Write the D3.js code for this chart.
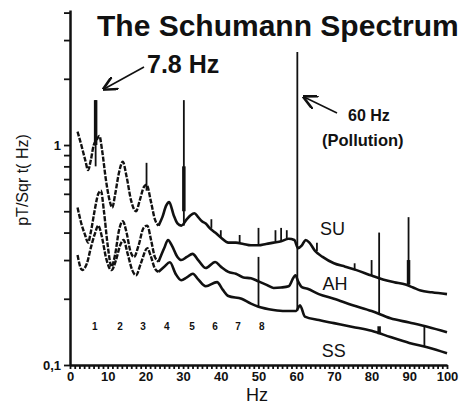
<!DOCTYPE html>
<html>
<head>
<meta charset="utf-8">
<script src="https://cdn.jsdelivr.net/npm/d3@7"></script>
<style>
  body { margin: 0; background: #fff; }
  text { font-family: "Liberation Sans", Arial, sans-serif; fill: #111; }
</style>
</head>
<body>
<script>
// spectrum curves, [Hz, pT/sqrt(Hz)]
var su = [[2,1.15],[3,1.0],[4,0.86],[4.8,0.77],[5.5,0.85],[6.3,1.0],[7,1.05],[7.8,1.1],[8.5,0.95],[9.5,0.7],[10.5,0.56],[11.2,0.52],[12,0.6],[13,0.75],[14,0.84],[15,0.72],[16.2,0.56],[17.5,0.5],[18.5,0.56],[19.5,0.64],[20.3,0.66],[21.5,0.55],[22.5,0.46],[23.5,0.43],[24.5,0.47],[25.5,0.53],[26.3,0.55],[27.5,0.48],[28.5,0.44],[29.5,0.43],[31,0.46],[32,0.48],[33,0.49],[34,0.47],[35,0.45],[36,0.44],[37,0.42],[38.5,0.4],[40,0.38],[42,0.36],[44,0.36],[46,0.355],[48,0.35],[50,0.35],[52,0.355],[54,0.36],[56,0.365],[58,0.375],[59.5,0.37],[60.5,0.34],[61.5,0.35],[62.5,0.37],[63.5,0.36],[65,0.33],[67,0.31],[70,0.29],[73,0.28],[76,0.27],[80,0.255],[83,0.245],[86,0.238],[89,0.232],[91,0.225],[93,0.218],[96,0.214],[100,0.21]];
var ah = [[2,0.52],[3,0.44],[4,0.39],[4.8,0.36],[5.5,0.4],[6.5,0.5],[7.5,0.6],[8.2,0.62],[9,0.5],[10,0.35],[11,0.28],[12,0.32],[13,0.41],[14,0.45],[15,0.4],[16,0.33],[17,0.31],[18.2,0.35],[19.5,0.42],[20.5,0.43],[21.5,0.37],[22.5,0.31],[23.5,0.295],[25,0.34],[26,0.37],[27,0.35],[28.5,0.31],[29.5,0.3],[31,0.31],[32.5,0.32],[34,0.3],[36,0.276],[38.5,0.294],[40,0.28],[42,0.265],[44,0.26],[46,0.25],[48,0.248],[50,0.24],[52,0.232],[54,0.224],[56,0.225],[58,0.228],[59.3,0.25],[59.8,0.256],[60.5,0.24],[61.5,0.226],[63,0.222],[66,0.21],[70,0.2],[75,0.187],[80,0.176],[85,0.163],[90,0.156],[95,0.149],[100,0.141]];
var ss = [[2,0.316],[3.2,0.27],[4.5,0.29],[5.5,0.34],[6.5,0.39],[7.5,0.43],[8.5,0.38],[9.5,0.31],[11,0.27],[12.2,0.3],[13.3,0.35],[14.2,0.37],[15.3,0.32],[16.5,0.27],[17.5,0.256],[18.8,0.29],[20.5,0.34],[21.5,0.31],[22.5,0.275],[23.5,0.265],[25,0.28],[26.5,0.293],[28,0.26],[29.5,0.243],[31,0.25],[32.6,0.26],[34,0.245],[36,0.228],[39,0.238],[40.5,0.22],[42,0.206],[45.5,0.2],[48,0.19],[50,0.184],[54,0.178],[57,0.176],[60,0.176],[61,0.187],[62.3,0.166],[66,0.16],[70,0.155],[75,0.149],[80,0.143],[85,0.134],[90,0.126],[95,0.12],[100,0.113]];

// narrow lines, [Hz, low, high]
var spikes = [[6.8,0.8,1.6],[20.3,0.62,0.83],[30.2,0.43,1.6],[37.5,0.42,0.46],[40,0.38,0.41],[45,0.355,0.39],[50,0.35,0.42],[54.5,0.36,0.41],[56,0.365,0.42],[57.5,0.37,0.41],[65.5,0.33,0.36],[75.5,0.27,0.29],[80,0.255,0.3],[89.8,0.232,0.47],[60.3,0.176,2.65],[50,0.184,0.31],[82,0.17,0.4],[94,0.121,0.15]];
// wider bursts
var bursts = [[6.8,1.0,1.6],[30.2,0.5,0.8],[89.8,0.232,0.3],[82,0.138,0.15]];

var modeNums = ["1","2","3","4","5","6","7","8"];
var modeHz = [6.6,13.3,19.4,25.7,32.4,38.5,44.6,50.9];
var modeLevel = 0.145;

var curveNames = ["SU","AH","SS"];
var curveLabelHz = [66.3,67,66.8];
var curveLabelVal = [0.39,0.219,0.109];

var xTickVals = [0,10,20,30,40,50,60,70,80,90,100];
var yTickVals = [0.1,0.2,0.3,0.4,0.5,0.6,0.7,0.8,0.9,1,2,3,4];
var dashedUpTo = 24; // left part of each curve looks broken up

var width = 463, height = 406;

var svg = d3.select("body").append("svg")
  .attr("width", width)
  .attr("height", height);

var x = d3.scaleLinear().domain([0, 100]).range([70, 447]);
var y = d3.scaleLog().domain([0.1, 4.11]).range([365, 10]);

// axes
var yAxis = svg.append("g")
  .attr("transform", "translate(70,0)")
  .call(d3.axisLeft(y).tickValues(yTickVals).tickSize(6).tickSizeOuter(0)
    .tickFormat(function(d){ return d == 1 ? "1" : (d == 0.1 ? "0,1" : ""); }));
var xAxis = svg.append("g")
  .attr("transform", "translate(0,365)")
  .call(d3.axisBottom(x).tickValues(d3.range(0, 100.01, 1.25)).tickSize(4).tickSizeOuter(0).tickPadding(3)
    .tickFormat(function(d){ return xTickVals.indexOf(d) >= 0 ? d : ""; }));

[xAxis, yAxis].forEach(function(g){
  g.select(".domain").attr("stroke", "#111").attr("stroke-width", 2.5);
  g.selectAll(".tick line").attr("stroke", "#111").attr("stroke-width", 1.8);
  g.selectAll(".tick text").attr("font-size", 13).attr("font-weight", "bold")
    .attr("font-family", "Liberation Sans, Arial, sans-serif").attr("fill", "#111");
});

// curves
var line = d3.line()
  .x(function(d){ return x(d[0]); })
  .y(function(d){ return y(d[1]); })
  .curve(d3.curveMonotoneX);

var curves = [su, ah, ss];
svg.selectAll(".curve-left").data(curves).enter().append("path")
  .attr("class", "curve-left")
  .attr("d", function(c){ return line(c.filter(function(d){ return d[0] <= dashedUpTo; })); })
  .attr("fill", "none")
  .attr("stroke", "#111")
  .attr("stroke-width", 2.4)
  .attr("stroke-dasharray", "5,1.5");
svg.selectAll(".curve-right").data(curves).enter().append("path")
  .attr("class", "curve-right")
  .attr("d", function(c){ return line(c.filter(function(d, i){ return d[0] >= dashedUpTo || (c[i+1] && c[i+1][0] > dashedUpTo); })); })
  .attr("fill", "none")
  .attr("stroke", "#111")
  .attr("stroke-width", 2.6)
  .attr("stroke-linejoin", "round");

svg.selectAll(".spike").data(spikes).enter().append("line")
  .attr("class", "spike")
  .attr("x1", function(d){ return x(d[0]); })
  .attr("x2", function(d){ return x(d[0]); })
  .attr("y1", function(d){ return y(d[1]); })
  .attr("y2", function(d){ return y(d[2]); })
  .attr("stroke", "#111")
  .attr("stroke-width", 1.8);

svg.selectAll(".burst").data(bursts).enter().append("line")
  .attr("class", "burst")
  .attr("x1", function(d){ return x(d[0]); })
  .attr("x2", function(d){ return x(d[0]); })
  .attr("y1", function(d){ return y(d[1]); })
  .attr("y2", function(d){ return y(d[2]); })
  .attr("stroke", "#111")
  .attr("stroke-width", 3.5);

// mode numbers
svg.selectAll(".mode").data(modeNums).enter().append("text")
  .attr("class", "mode")
  .attr("x", function(d, i){ return x(modeHz[i]); })
  .attr("y", y(modeLevel))
  .attr("text-anchor", "middle")
  .attr("font-size", 10)
  .attr("font-weight", "bold")
  .text(function(d){ return d; });

// curve labels
svg.selectAll(".clabel").data(curveNames).enter().append("text")
  .attr("class", "clabel")
  .attr("x", function(d, i){ return x(curveLabelHz[i]); })
  .attr("y", function(d, i){ return y(curveLabelVal[i]); })
  .attr("font-size", 18)
  .text(function(d){ return d; });

// titles and notes
svg.append("text").attr("x", 97).attr("y", 36)
  .attr("font-size", 30).attr("font-weight", "bold")
  .text("The Schumann Spectrum");
svg.append("text").attr("x", 147).attr("y", 73)
  .attr("font-family", "DejaVu Sans, sans-serif")
  .attr("font-size", 25).attr("font-weight", "bold")
  .text("7.8 Hz");
svg.append("text").attr("x", 348).attr("y", 121)
  .attr("font-family", "DejaVu Sans, sans-serif")
  .attr("font-size", 16).attr("font-weight", "bold")
  .text("60 Hz");
svg.append("text").attr("x", 322).attr("y", 146)
  .attr("font-family", "DejaVu Sans, sans-serif")
  .attr("font-size", 16.5).attr("font-weight", "bold")
  .text("(Pollution)");

svg.append("text")
  .attr("transform", "translate(28,180) rotate(-90)")
  .attr("text-anchor", "middle")
  .attr("font-family", "DejaVu Sans, sans-serif")
  .attr("font-size", 16)
  .text("pT/Sqr t( Hz)");
svg.append("text").attr("x", 257).attr("y", 401)
  .attr("text-anchor", "middle").attr("font-size", 18)
  .text("Hz");

// arrows
svg.append("defs").append("marker")
  .attr("id", "head").attr("viewBox", "0 0 10 10")
  .attr("refX", 9).attr("refY", 5)
  .attr("markerWidth", 9).attr("markerHeight", 9)
  .attr("orient", "auto")
  .append("path").attr("d", "M0,0 L10,5 L0,10")
  .attr("fill", "none").attr("stroke", "#111").attr("stroke-width", 1.8);

svg.append("line").attr("x1", 144).attr("y1", 67).attr("x2", 104).attr("y2", 89)
  .attr("stroke", "#111").attr("stroke-width", 1.6).attr("marker-end", "url(#head)");
svg.append("line").attr("x1", 337).attr("y1", 113).attr("x2", 304).attr("y2", 97)
  .attr("stroke", "#111").attr("stroke-width", 1.6).attr("marker-end", "url(#head)");
</script>
</body>
</html>
